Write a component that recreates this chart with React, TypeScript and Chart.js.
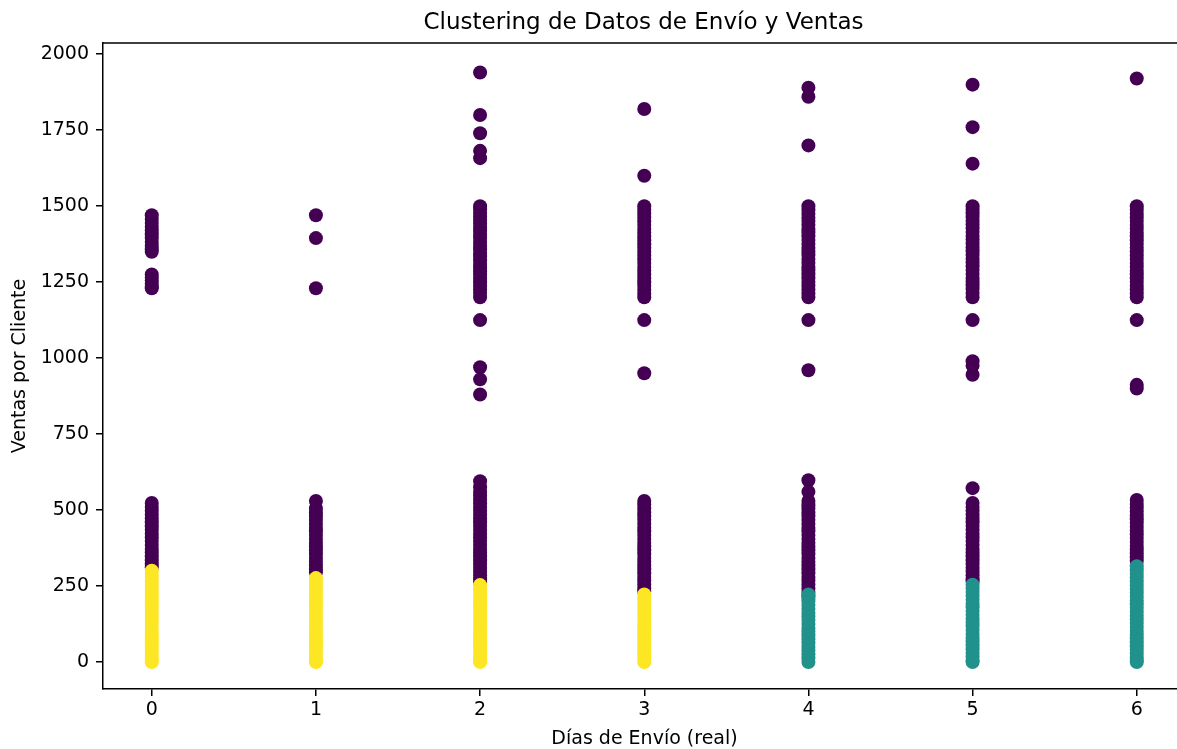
import React, { useEffect, useRef } from "react";
import { Chart, registerables } from "chart.js";

Chart.register(...registerables);

const titulo = "Clustering de Datos de Envío y Ventas";
const etiquetaX = "Días de Envío (real)";
const etiquetaY = "Ventas por Cliente";

const ticksX = [0, 1, 2, 3, 4, 5, 6];
const ticksY = [0, 250, 500, 750, 1000, 1250, 1500, 1750, 2000];

const coloresCluster = ["#440154", "#21918c", "#fde725"];

// Cluster 0 (morado), por día de envío
const c0Dia0 = [1470, 1458, 1445, 1432, 1420, 1408, 1395, 1382, 1370, 1358, 1350, 1275, 1265, 1255, 1245, 1235, 1230,
  523, 510, 498, 485, 472, 460, 447, 435, 422, 410, 398, 385, 372, 360, 348, 335, 322, 312];
const c0Dia1 = [1470, 1395, 1230,
  530, 505, 492, 480, 468, 455, 442, 430, 418, 405, 392, 380, 368, 355, 342, 330, 318, 305, 295];
const c0Dia2 = [1940, 1800, 1740, 1682, 1658,
  1500, 1490, 1478, 1466, 1455, 1443, 1430, 1418, 1406, 1395, 1382, 1370, 1358, 1346, 1335, 1322, 1310, 1298, 1286, 1275, 1262, 1250, 1238, 1226, 1214, 1200,
  1125, 970, 930, 880,
  595, 575, 560, 548, 535, 522, 510, 498, 485, 472, 460, 448, 435, 422, 410, 398, 385, 372, 360, 348, 335, 322, 310, 298, 285, 272, 262];
const c0Dia3 = [1820, 1600,
  1500, 1488, 1476, 1463, 1450, 1438, 1425, 1413, 1400, 1388, 1375, 1362, 1350, 1338, 1325, 1313, 1300, 1288, 1275, 1262, 1250, 1238, 1225, 1212, 1200,
  1125, 950,
  530, 518, 505, 492, 480, 468, 455, 442, 430, 418, 405, 392, 380, 368, 355, 342, 330, 318, 305, 292, 280, 268, 255, 242, 232];
const c0Dia4 = [1890, 1860, 1700,
  1500, 1487, 1475, 1462, 1451, 1439, 1426, 1414, 1401, 1389, 1376, 1363, 1351, 1339, 1326, 1314, 1301, 1289, 1276, 1263, 1251, 1239, 1226, 1213, 1200,
  1125, 960,
  598, 560, 530, 516, 505, 492, 480, 468, 455, 442, 430, 418, 405, 392, 380, 368, 355, 342, 330, 318, 305, 292, 280, 268, 255, 242, 230, 218];
const c0Dia5 = [1900, 1760, 1640,
  1500, 1489, 1477, 1464, 1452, 1440, 1427, 1415, 1402, 1390, 1377, 1364, 1352, 1340, 1327, 1315, 1302, 1290, 1277, 1264, 1252, 1240, 1227, 1214, 1200,
  1125, 990, 975, 945,
  572, 523, 510, 498, 485, 472, 460, 448, 435, 422, 410, 398, 385, 372, 360, 348, 335, 322, 310, 298, 285, 272, 265];
const c0Dia6 = [1920,
  1500, 1488, 1475, 1463, 1451, 1438, 1426, 1413, 1401, 1388, 1376, 1363, 1351, 1338, 1326, 1313, 1301, 1288, 1276, 1263, 1251, 1238, 1226, 1213, 1200,
  1125, 912, 900,
  533, 520, 508, 495, 482, 470, 458, 445, 432, 420, 408, 395, 382, 370, 358, 345, 332];

// Cluster 1 (verde azulado), por día de envío
const c1Dia4 = [222, 210, 200, 188, 175, 162, 150, 138, 125, 112, 100, 88, 75, 62, 50, 38, 25, 12, 0];
const c1Dia5 = [254, 242, 230, 218, 205, 192, 180, 168, 155, 142, 130, 118, 105, 92, 80, 68, 55, 42, 30, 18, 5, 0];
const c1Dia6 = [315, 302, 290, 278, 265, 252, 240, 228, 215, 202, 190, 178, 165, 152, 140, 128, 115, 102, 90, 78, 65, 52, 40, 28, 15, 5, 0];

// Cluster 2 (amarillo), por día de envío
const c2Dia0 = [300, 290, 278, 265, 252, 240, 228, 215, 202, 190, 178, 165, 152, 140, 128, 115, 102, 90, 78, 65, 52, 40, 28, 15, 5, 0];
const c2Dia1 = [276, 264, 252, 240, 228, 215, 202, 190, 178, 165, 152, 140, 128, 115, 102, 90, 78, 65, 52, 40, 28, 15, 5, 0];
const c2Dia2 = [253, 240, 228, 215, 202, 190, 178, 165, 152, 140, 128, 115, 102, 90, 78, 65, 52, 40, 28, 15, 5, 0];
const c2Dia3 = [222, 210, 198, 185, 172, 160, 148, 135, 122, 110, 98, 85, 72, 60, 48, 35, 22, 10, 0];

const cluster0 = [[0, c0Dia0], [1, c0Dia1], [2, c0Dia2], [3, c0Dia3], [4, c0Dia4], [5, c0Dia5], [6, c0Dia6]] as [number, number[]][];
const cluster1 = [[4, c1Dia4], [5, c1Dia5], [6, c1Dia6]] as [number, number[]][];
const cluster2 = [[0, c2Dia0], [1, c2Dia1], [2, c2Dia2], [3, c2Dia3]] as [number, number[]][];

const aPuntos = (grupos: [number, number[]][]) =>
  grupos.flatMap(([dia, valores]) => valores.map((v) => ({ x: dia, y: v })));

const FUENTE = "'DejaVu Sans', sans-serif";

const marcoPlugin = {
  id: "marco",
  afterDatasetsDraw(chart: any) {
    const { ctx, chartArea } = chart;
    const { left, top, right, bottom } = chartArea;
    ctx.save();
    ctx.strokeStyle = "#000";
    ctx.lineWidth = 1.5;
    ctx.beginPath();
    ctx.moveTo(left, top);
    ctx.lineTo(right, top);
    ctx.lineTo(right, bottom);
    ctx.stroke();
    ctx.restore();
  },
};

export default function App() {
  const ref = useRef<HTMLCanvasElement | null>(null);

  useEffect(() => {
    if (!ref.current) return;
    Chart.defaults.font.family = FUENTE;
    const punto = { pointRadius: 7, pointHoverRadius: 7, pointBorderWidth: 0, showLine: false };
    const chart = new Chart(ref.current, {
      type: "scatter",
      data: {
        datasets: [
          { label: "Cluster 2", data: aPuntos(cluster2), backgroundColor: coloresCluster[2], borderColor: coloresCluster[2], order: 1, ...punto },
          { label: "Cluster 1", data: aPuntos(cluster1), backgroundColor: coloresCluster[1], borderColor: coloresCluster[1], order: 1, ...punto },
          { label: "Cluster 0", data: aPuntos(cluster0), backgroundColor: coloresCluster[0], borderColor: coloresCluster[0], order: 2, ...punto },
        ],
      },
      options: {
        responsive: false,
        animation: false,
        devicePixelRatio: 1,
        layout: { padding: 0 },
        plugins: {
          legend: { display: false },
          tooltip: { enabled: false },
          title: {
            display: true,
            text: titulo,
            color: "#000",
            font: { family: FUENTE, size: 23, weight: "normal", lineHeight: 1.2 },
            padding: { top: 9, bottom: 6.4 },
          },
        },
        scales: {
          x: {
            type: "linear",
            min: -0.297,
            max: 6.3,
            afterBuildTicks: (s: any) => {
              s.ticks = ticksX.map((v) => ({ value: v }));
            },
            afterFit: (s: any) => {
              s.height = 60;
            },
            grid: { display: true, drawOnChartArea: false, drawTicks: true, tickLength: 7, color: "#000", lineWidth: 1.5 },
            border: { display: true, color: "#000", width: 1.5 },
            ticks: { color: "#000", font: { family: FUENTE, size: 19 }, padding: 3, maxRotation: 0, callback: (v: any) => String(v) },
            title: {
              display: true,
              text: etiquetaX,
              color: "#000",
              font: { family: FUENTE, size: 19, lineHeight: 1 },
              padding: { top: 0, bottom: 0 },
            },
          },
          y: {
            type: "linear",
            position: "left",
            min: -89,
            max: 2037,
            afterBuildTicks: (s: any) => {
              s.ticks = ticksY.map((v) => ({ value: v }));
            },
            afterFit: (s: any) => {
              s.width = 103;
            },
            grid: { display: true, drawOnChartArea: false, drawTicks: true, tickLength: 7, color: "#000", lineWidth: 1.5 },
            border: { display: true, color: "#000", width: 1.5 },
            ticks: { color: "#000", font: { family: FUENTE, size: 19 }, padding: 7, callback: (v: any) => String(v) },
            title: {
              display: true,
              text: etiquetaY,
              color: "#000",
              font: { family: FUENTE, size: 19, lineHeight: 1 },
              padding: { top: 11, bottom: 0 },
            },
          },
          y2: {
            type: "linear",
            position: "right",
            display: true,
            afterFit: (s: any) => {
              s.width = 101;
            },
            ticks: { display: false },
            grid: { display: false },
            border: { display: false },
          },
        },
      },
      plugins: [marcoPlugin],
    });
    return () => chart.destroy();
  }, []);

  return (
    <div style={{ position: "fixed", left: 0, top: 0, width: 1287, height: 749, background: "#fff" }}>
      <canvas ref={ref} width={1287} height={749} style={{ display: "block" }} />
    </div>
  );
}
